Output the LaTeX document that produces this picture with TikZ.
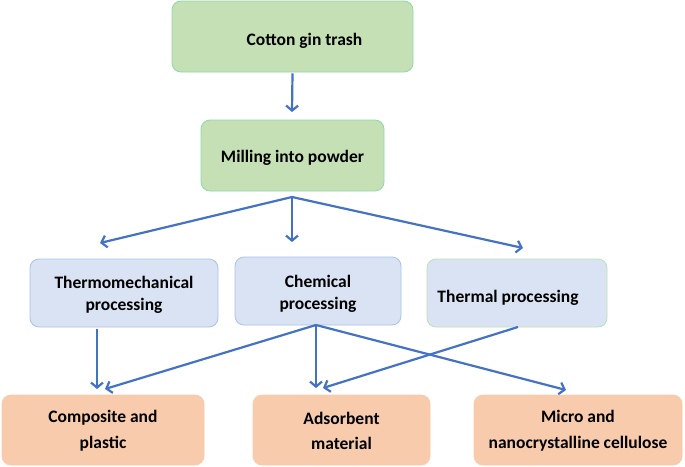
\documentclass[tikz,border=0pt]{standalone}
\usepackage{fontspec}
\setmainfont{Carlito}
\usetikzlibrary{arrows.meta}
\definecolor{gfill}{HTML}{C5E0B4}
\definecolor{gdraw}{HTML}{8ED9A8}
\definecolor{bfill}{HTML}{DAE3F3}
\definecolor{bdraw}{HTML}{A9C2EC}
\definecolor{tdraw}{HTML}{B9E3B0}
\definecolor{ofill}{HTML}{F8CBAD}
\definecolor{odraw}{HTML}{F8CBAD}
\definecolor{arr}{HTML}{4472C4}
\newcommand{\lowr}[2]{\raisebox{-#1}[\height][\depth]{#2}}
\tikzset{
  box/.style={rounded corners=9pt, line width=0.8pt, font=\bfseries\fontsize{17.5}{22}\selectfont, align=center, inner sep=0pt},
  greenbox/.style={box, fill=gfill, draw=gdraw},
  bluebox/.style={box, fill=bfill, draw=bdraw},
  orangebox/.style={box, fill=ofill, draw=odraw, font=\bfseries\fontsize{17.5}{27}\selectfont},
  flow/.style={draw=arr, line width=2.2pt, -{Straight Barb[length=5pt,width=12pt,line width=2.2pt]}},
}
\begin{document}
\begin{tikzpicture}[x=1pt,y=-1pt]
\useasboundingbox (0,0) rectangle (685,466);
\node[greenbox, minimum width=241pt, minimum height=71pt] (cotton) at (292.5,36.5) {\hspace*{24pt}\lowr{4pt}{Cotton gin trash}};
\node[greenbox, minimum width=183pt, minimum height=71pt] (mill) at (292.5,155.5) {\lowr{2pt}{Milling into powder}};
\node[bluebox, minimum width=188pt, minimum height=68pt] (thermo) at (124,293) {\lowr{2pt}{Thermomechanical}\\\lowr{2pt}{processing}};
\node[bluebox, minimum width=166pt, minimum height=68pt] (chem) at (318,291) {\lowr{3pt}{Chemical}\\\lowr{3pt}{processing}};
\node[bluebox, draw=tdraw, minimum width=180pt, minimum height=68pt] (thermal) at (517,293) {\hspace*{-18pt}\lowr{5pt}{Thermal processing}};
\node[orangebox, minimum width=202pt, minimum height=70pt] (comp) at (103,430) {\lowr{1.5pt}{Composite and}\\plastic};
\node[orangebox, minimum width=177pt, minimum height=70pt] (ads) at (341.5,430) {\lowr{1.5pt}{Adsorbent}\\material};
\node[orangebox, minimum width=208pt, minimum height=70pt] (micro) at (578,430) {\lowr{1.5pt}{Micro and}\\nanocrystalline cellulose};
\coordinate (mb) at (292,197);
\coordinate (cb) at (316,325);
\coordinate (tb) at (518,327);
\draw[flow] (cotton.south) ++(0,1) -- (292,112);
\draw[flow] (mb) -- (100,243);
\draw[flow] (mb) -- (292,242);
\draw[flow] (mb) -- (523,248);
\draw[flow] (97,329) -- (97,389);
\draw[flow] (cb) -- (105,389);
\draw[flow] (cb) -- (316,388);
\draw[flow] (cb) -- (566,390);
\draw[flow] (tb) -- (323,388);
\end{tikzpicture}
\end{document}
